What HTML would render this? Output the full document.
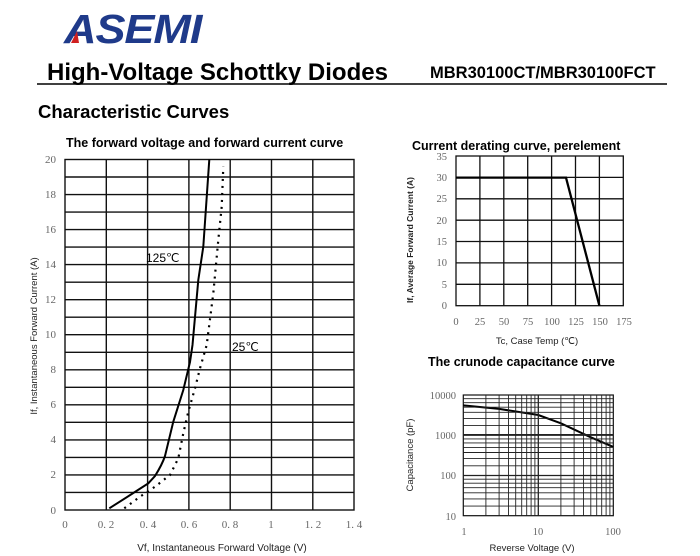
<!DOCTYPE html>
<html><head><meta charset="utf-8"><style>
html,body{margin:0;padding:0;background:#fff;width:700px;height:556px;overflow:hidden}
svg{display:block}
.t{font-family:"Liberation Sans",Arial,sans-serif;fill:#000}
.s{font-family:"Liberation Serif",serif;fill:#666;font-size:11px}
</style></head><body>
<svg width="700" height="556" viewBox="0 0 700 556" xmlns="http://www.w3.org/2000/svg">
<!-- logo -->
<text x="64" y="43" class="t" style="font-size:41px;font-weight:bold;font-style:italic;fill:#1f3a8a;letter-spacing:-1px" transform="translate(64 0) scale(1.1 1) translate(-64 0)">ASEMI</text>
<polygon points="71,43 77,31 79,43" fill="#d02020"/>
<text x="47" y="80" class="t" style="font-size:24px;font-weight:bold">High-Voltage Schottky Diodes</text>
<text x="430" y="78" class="t" style="font-size:16.5px;font-weight:bold">MBR30100CT/MBR30100FCT</text>
<line x1="37" y1="84" x2="667" y2="84" stroke="#000" stroke-width="1.5"/>
<text x="38" y="118" class="t" style="font-size:18.5px;font-weight:bold">Characteristic Curves</text>

<!-- Main chart -->
<text x="66" y="147" class="t" style="font-size:12.5px;font-weight:bold">The forward voltage and forward current curve</text>
<g stroke="#111" stroke-width="1.4" fill="none">
<rect x="65" y="159.5" width="289" height="350.5"/>
<path d="M106.3 159.5V510M147.6 159.5V510M188.9 159.5V510M230.2 159.5V510M271.5 159.5V510M312.8 159.5V510"/>
<path d="M65 177H354M65 194.6H354M65 212.1H354M65 229.6H354M65 247.1H354M65 264.6H354M65 282.2H354M65 299.7H354M65 317.2H354M65 334.7H354M65 352.3H354M65 369.8H354M65 387.3H354M65 404.8H354M65 422.3H354M65 439.9H354M65 457.4H354M65 474.9H354M65 492.4H354"/>
</g>
<path d="M109.3 508.3 L133.3 493 L148.3 483.3 L155 476 C160 468 163 462 165 456 L173.3 421.7 L183.3 390 L190 362 L192.5 345 L198.3 280 L203.3 246.7 L209.3 159.5" stroke="#000" stroke-width="2" fill="none"/>
<path d="M124.3 508.3 L140 496.7 L155 486.7 L170 475 L178.3 458.3 L183.3 433.3 L188.3 411.7 L195 388.3 L200 368.3 L206.7 345 L213.3 293.3 L218.3 240 L221.7 206.7 L223.3 166.7" stroke="#000" stroke-width="2.2" stroke-dasharray="2 5" fill="none"/>
<text x="146" y="262" class="t" style="font-size:12px">125℃</text>
<text x="232" y="351" class="t" style="font-size:12px">25℃</text>
<g class="s" text-anchor="end">
<text x="56" y="163">20</text><text x="56" y="198">18</text><text x="56" y="233">16</text><text x="56" y="268">14</text><text x="56" y="303">12</text><text x="56" y="338">10</text><text x="56" y="373">8</text><text x="56" y="408">6</text><text x="56" y="443">4</text><text x="56" y="478">2</text><text x="56" y="514">0</text>
</g>
<g class="s" text-anchor="middle">
<text x="65" y="528">0</text><text x="106" y="528">0. 2</text><text x="148" y="528">0. 4</text><text x="189" y="528">0. 6</text><text x="230" y="528">0. 8</text><text x="271" y="528">1</text><text x="313" y="528">1. 2</text><text x="354" y="528">1. 4</text>
</g>
<text x="222" y="551" class="t" text-anchor="middle" style="font-size:10px;fill:#222">Vf, Instantaneous Forward Voltage (V)</text>
<text transform="translate(37 336) rotate(-90)" class="t" text-anchor="middle" style="font-size:9.5px;fill:#222">If, Instantaneous Forward Current (A)</text>

<!-- Derating -->
<text x="412" y="150" class="t" style="font-size:12.5px;font-weight:bold">Current derating curve, perelement</text>
<g stroke="#111" stroke-width="1.3" fill="none">
<rect x="456" y="156" width="167.3" height="149.7"/>
<path d="M479.9 156V305.7M503.8 156V305.7M527.7 156V305.7M551.6 156V305.7M575.5 156V305.7M599.4 156V305.7"/>
<path d="M456 177.4H623.3M456 198.8H623.3M456 220.2H623.3M456 241.5H623.3M456 262.9H623.3M456 284.3H623.3"/>
</g>
<path d="M456 177.6 L566 177.6 L599.4 305.7" stroke="#000" stroke-width="2.3" fill="none"/>
<g class="s" text-anchor="end" style="font-size:10.5px">
<text x="447" y="160">35</text><text x="447" y="181">30</text><text x="447" y="202">25</text><text x="447" y="224">20</text><text x="447" y="245">15</text><text x="447" y="266">10</text><text x="447" y="288">5</text><text x="447" y="309">0</text>
</g>
<g class="s" text-anchor="middle" style="font-size:10.5px">
<text x="456" y="325">0</text><text x="480" y="325">25</text><text x="504" y="325">50</text><text x="528" y="325">75</text><text x="552" y="325">100</text><text x="576" y="325">125</text><text x="600" y="325">150</text><text x="624" y="325">175</text>
</g>
<text x="537" y="344" class="t" text-anchor="middle" style="font-size:9.5px;fill:#222">Tc, Case Temp (℃)</text>
<text transform="translate(413 240) rotate(-90)" class="t" text-anchor="middle" style="font-size:8.5px;font-weight:bold;fill:#222">If, Average Forward Current (A)</text>

<!-- Capacitance -->
<text x="428" y="366" class="t" style="font-size:12.5px;font-weight:bold">The crunode capacitance curve</text>
<rect x="463.3" y="395" width="150" height="120.7" stroke="#111" stroke-width="1.2" fill="none"/>
<path d="M463.3 405.4 L499.1 408.9 L538.3 415 L560.9 423.3 L590.8 437.3 L613.3 446.9" stroke="#000" stroke-width="2" fill="none"/>
<g class="s" text-anchor="end" style="font-size:10.5px">
<text x="456" y="399">10000</text><text x="456" y="439">1000</text><text x="456" y="479">100</text><text x="456" y="520">10</text>
</g>
<g class="s" text-anchor="middle" style="font-size:10.5px">
<text x="464" y="535">1</text><text x="538" y="535">10</text><text x="613" y="535">100</text>
</g>
<text x="532" y="551" class="t" text-anchor="middle" style="font-size:9.5px;fill:#222">Reverse Voltage (V)</text>
<text transform="translate(413 455) rotate(-90)" class="t" text-anchor="middle" style="font-size:9.5px;fill:#222">Capacitance (pF)</text>
<g stroke="#222" stroke-width="0.9">
<line x1="485.9" y1="395" x2="485.9" y2="515.7"/><line x1="499.1" y1="395" x2="499.1" y2="515.7"/><line x1="508.5" y1="395" x2="508.5" y2="515.7"/><line x1="515.7" y1="395" x2="515.7" y2="515.7"/><line x1="521.7" y1="395" x2="521.7" y2="515.7"/><line x1="526.7" y1="395" x2="526.7" y2="515.7"/><line x1="531.1" y1="395" x2="531.1" y2="515.7"/><line x1="534.9" y1="395" x2="534.9" y2="515.7"/><line x1="538.3" y1="395" x2="538.3" y2="515.7" stroke-width="1.3"/>
<line x1="560.9" y1="395" x2="560.9" y2="515.7"/><line x1="574.1" y1="395" x2="574.1" y2="515.7"/><line x1="583.5" y1="395" x2="583.5" y2="515.7"/><line x1="590.8" y1="395" x2="590.8" y2="515.7"/><line x1="596.7" y1="395" x2="596.7" y2="515.7"/><line x1="601.7" y1="395" x2="601.7" y2="515.7"/><line x1="606.1" y1="395" x2="606.1" y2="515.7"/><line x1="609.9" y1="395" x2="609.9" y2="515.7"/>
<line x1="463.3" x2="613.3" y1="398.7" y2="398.7"/><line x1="463.3" x2="613.3" y1="402.7" y2="402.7"/><line x1="463.3" x2="613.3" y1="407.2" y2="407.2"/><line x1="463.3" x2="613.3" y1="412.3" y2="412.3"/><line x1="463.3" x2="613.3" y1="418.4" y2="418.4"/><line x1="463.3" x2="613.3" y1="425.6" y2="425.6"/><line x1="463.3" x2="613.3" y1="434.4" y2="434.4"/><line x1="463.3" x2="613.3" y1="435.2" y2="435.2" stroke-width="1.3"/>
<line x1="463.3" x2="613.3" y1="438.9" y2="438.9"/><line x1="463.3" x2="613.3" y1="442.9" y2="442.9"/><line x1="463.3" x2="613.3" y1="447.4" y2="447.4"/><line x1="463.3" x2="613.3" y1="452.5" y2="452.5"/><line x1="463.3" x2="613.3" y1="458.6" y2="458.6"/><line x1="463.3" x2="613.3" y1="465.8" y2="465.8"/><line x1="463.3" x2="613.3" y1="475.5" y2="475.5" stroke-width="1.3"/>
<line x1="463.3" x2="613.3" y1="479.2" y2="479.2"/><line x1="463.3" x2="613.3" y1="483.2" y2="483.2"/><line x1="463.3" x2="613.3" y1="487.7" y2="487.7"/><line x1="463.3" x2="613.3" y1="492.8" y2="492.8"/><line x1="463.3" x2="613.3" y1="498.9" y2="498.9"/><line x1="463.3" x2="613.3" y1="506.1" y2="506.1"/>
</g>
</svg>
</body></html>
